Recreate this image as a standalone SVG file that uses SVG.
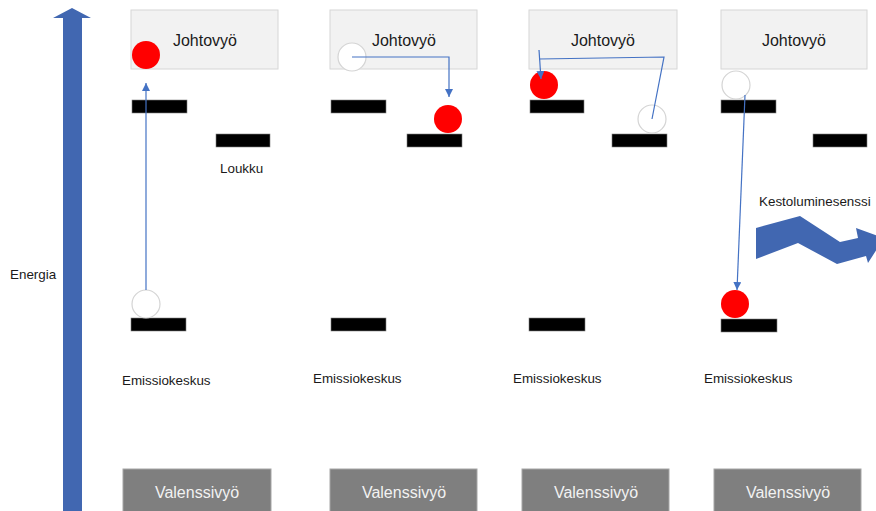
<svg xmlns="http://www.w3.org/2000/svg" width="876" height="511" viewBox="0 0 876 511">
  <defs>
    <style>
      text { font-family: "Liberation Sans", Arial, sans-serif; fill: #1a1a1a; }
      .lbl { font-size: 13.4px; }
      .band { fill: #f2f2f2; stroke: #d6d6d6; stroke-width: 1; }
      .band-t { font-size: 16px; text-anchor: middle; }
      .val { fill: #7f7f7f; stroke: #a6a6a6; stroke-width: 1; }
      .val-t { font-size: 16px; text-anchor: middle; fill: #f2f2f2; }
      .lvl { fill: #000; stroke: #808080; stroke-width: 0.6; }
      .full { fill: #ff0000; }
      .empty { fill: #fff; stroke: #d4d4d4; stroke-width: 1.2; }
      .conn { fill: none; stroke: #4472c4; stroke-width: 1.2; }
      .blue { fill: #4167b1; }
    </style>
    <marker id="arr" viewBox="0 0 10 10" refX="10" refY="5" markerWidth="8" markerHeight="8" markerUnits="userSpaceOnUse" orient="auto">
      <path d="M0,0 L10,5 L0,10 Z" fill="#4472c4"/>
    </marker>
  </defs>

  <!-- energy axis -->
  <g id="energy-axis">
    <path class="blue" d="M63,511 L63,18 L53,18 L72,8 L91,18 L82,18 L82,511 Z"/>
    <text class="lbl" x="10" y="279">Energia</text>
  </g>

  <!-- panel 1: excitation -->
  <g id="panel1">
    <rect class="band" x="131" y="10" width="147" height="59"/>
    <text class="band-t" x="205" y="46">Johtovyö</text>
    <rect class="lvl" x="132" y="100" width="55" height="13"/>
    <rect class="lvl" x="216" y="134" width="54" height="13"/>
    <text class="lbl" x="220" y="173">Loukku</text>
    <rect class="lvl" x="131" y="318" width="55" height="13"/>
    <text class="lbl" x="122" y="385">Emissiokeskus</text>
    <rect class="val" x="123" y="469" width="148" height="44"/>
    <text class="val-t" x="197" y="498">Valenssivyö</text>
    <circle class="full" cx="146" cy="55" r="14"/>
    <circle class="empty" cx="146" cy="304" r="14"/>
  </g>

  <!-- panel 2: trapping -->
  <g id="panel2">
    <rect class="band" x="330" y="10" width="147" height="59"/>
    <text class="band-t" x="404" y="46">Johtovyö</text>
    <rect class="lvl" x="331" y="100" width="55" height="13"/>
    <rect class="lvl" x="407" y="134" width="55" height="13"/>
    <rect class="lvl" x="331" y="318" width="55" height="13"/>
    <text class="lbl" x="313" y="383">Emissiokeskus</text>
    <rect class="val" x="330" y="469" width="147" height="44"/>
    <text class="val-t" x="404" y="498">Valenssivyö</text>
    <circle class="empty" cx="352" cy="57" r="14"/>
    <circle class="full" cx="448" cy="119" r="14"/>
  </g>

  <!-- panel 3: thermal release -->
  <g id="panel3">
    <rect class="band" x="529" y="10" width="148" height="59"/>
    <text class="band-t" x="603" y="46">Johtovyö</text>
    <rect class="lvl" x="530" y="100" width="54" height="13"/>
    <rect class="lvl" x="612" y="134" width="55" height="13"/>
    <rect class="lvl" x="529" y="318" width="56" height="13"/>
    <text class="lbl" x="513" y="383">Emissiokeskus</text>
    <rect class="val" x="522" y="469" width="147" height="44"/>
    <text class="val-t" x="596" y="498">Valenssivyö</text>
    <circle class="full" cx="544" cy="85" r="14"/>
    <circle class="empty" cx="652" cy="119" r="14"/>
  </g>

  <!-- panel 4: recombination -->
  <g id="panel4">
    <rect class="band" x="721" y="10" width="146" height="59"/>
    <text class="band-t" x="794" y="46">Johtovyö</text>
    <rect class="lvl" x="721" y="100" width="55" height="13"/>
    <rect class="lvl" x="813" y="134" width="54" height="13"/>
    <rect class="lvl" x="721" y="319" width="56" height="13"/>
    <text class="lbl" x="704" y="383">Emissiokeskus</text>
    <rect class="val" x="714" y="469" width="147" height="44"/>
    <text class="val-t" x="788" y="498">Valenssivyö</text>
    <circle class="empty" cx="736" cy="85" r="14"/>
    <circle class="full" cx="735" cy="304" r="14"/>
  </g>

  <!-- afterglow emission -->
  <g id="afterglow">
    <text class="lbl" x="759" y="206">Kestoluminesenssi</text>
    <path class="blue" d="M756,228 L800,216 L840,242 L858,238 L856,228 L884,238 L868,263 L866,256 L837,264 L798,243 L756,259 Z"/>
  </g>

  <!-- transitions -->
  <g id="connectors">
    <line class="conn" x1="146" y1="290" x2="146" y2="83" marker-end="url(#arr)"/>
    <polyline class="conn" points="352,57 449,57 449,97" marker-end="url(#arr)"/>
    <polyline class="conn" points="652,119 664,57 539,59"/>
    <line class="conn" x1="539" y1="50" x2="541" y2="79" marker-end="url(#arr)"/>
    <line class="conn" x1="745" y1="95" x2="737" y2="290" marker-end="url(#arr)"/>
  </g>
</svg>
